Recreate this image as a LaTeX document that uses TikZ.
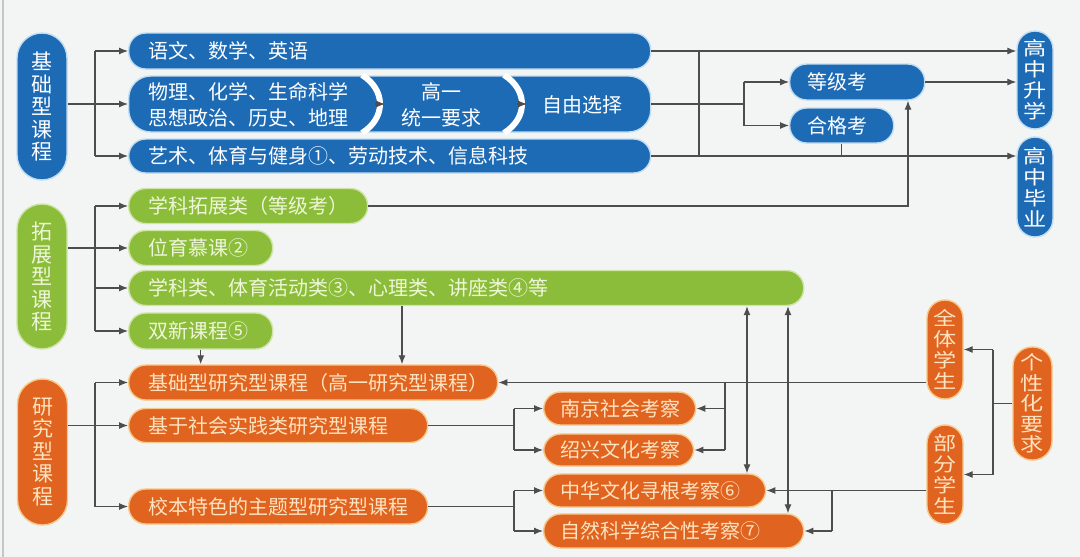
\documentclass[tikz,border=0pt]{standalone}
\usepackage{fontspec}
\setmainfont{Noto Sans CJK SC}
\newfontfamily\widecjk[FakeStretch=1.22]{Noto Sans CJK SC}
\usetikzlibrary{arrows.meta,calc}
\definecolor{cbg}{HTML}{F3F4F4}
\definecolor{cblue}{HTML}{1D6AB5}
\definecolor{cblueg}{HTML}{BFDDF3}
\definecolor{cgreen}{HTML}{8CBD3A}
\definecolor{cgreeng}{HTML}{CFE5A8}
\definecolor{corange}{HTML}{E0631F}
\definecolor{corangeg}{HTML}{F6C889}
\definecolor{cgtext}{HTML}{EEF6D8}
\definecolor{cotext}{HTML}{FDE3C0}
\definecolor{cline}{HTML}{4D4D4D}
\newcommand\tbx[2]{\makebox[#1pt][l]{#2}}
\begin{document}
\begin{tikzpicture}[x=1pt,y=-1pt,
  pill/.style={rectangle, rounded corners=17pt, inner xsep=20pt, inner ysep=0pt, line width=1.4pt, font=\fontsize{20}{24}\selectfont, anchor=west},
  bbar/.style={pill, fill=cblue, draw=cblueg, text=white},
  gbar/.style={pill, fill=cgreen, draw=cgreeng, text=cgtext},
  obar/.style={pill, fill=corange, draw=corangeg, text=cotext},
  vpill/.style={rectangle, inner sep=0pt, line width=1.4pt, align=center},
  vbig/.style={vpill, rounded corners=25pt, minimum width=50pt, font=\fontsize{21}{22.5}\selectfont},
  vsmall/.style={vpill, rounded corners=18pt, minimum width=36pt, font=\widecjk\fontsize{19}{21}\selectfont},
  vb/.style={fill=cblue, draw=cblueg, text=white},
  vg/.style={fill=cgreen, draw=cgreeng, text=cgtext},
  vo/.style={fill=corange, draw=corangeg, text=cotext},
  ln/.style={draw=cline, line width=1.1pt},
  arr/.style={ln, -{Latex[length=9pt,width=7pt]}},
  arrtwo/.style={ln, {Latex[length=9pt,width=7pt]}-{Latex[length=9pt,width=7pt]}}
]
\useasboundingbox (0,0) rectangle (1080,557);
\fill[cbg] (0,0) rectangle (1080,557);
\fill[gray!45] (1.5,0) rectangle (4,557);

% helper x positions
\coordinate (lb) at (95,0);
\coordinate (rv) at (699,0);
\coordinate (rvb) at (744,0);
\coordinate (ux) at (908,0);
\coordinate (dx) at (402,0);
\coordinate (va) at (747,0);
\coordinate (vc) at (788,0);
\coordinate (ob) at (514,0);
\coordinate (qb) at (725,0);
\coordinate (bb) at (832,0);
\coordinate (gb) at (993,0);

% ---------- blue ----------
\node[vbig, vb, minimum height=147pt] (jc) at (42,106.5) {基\\础\\型\\课\\程};
\node[bbar, minimum width=522pt, minimum height=36pt] (b1) at (128,51) {\tbx{482}{语文、数学、英语}};
\node[bbar, rounded corners=22pt, minimum width=522pt, minimum height=56pt] (b2) at (128,104) {};
\node[bbar, minimum width=522pt, minimum height=34pt] (b3) at (128,156) {\tbx{482}{艺术、体育与健身①、劳动技术、信息科技}};
\draw[white, line width=6pt] (362,75) .. controls (386,90) and (386,118) .. (362,133);
\draw[white, line width=6pt] (504,75) .. controls (528,90) and (528,118) .. (504,133);
\node[anchor=west, inner sep=0pt, text=white, align=left, font=\fontsize{20}{26}\selectfont] (b2a) at (148,105) {物理、化学、生命科学\\思想政治、历史、地理};
\node[inner sep=0pt, text=white, align=center, font=\fontsize{20}{26}\selectfont] (b2b) at (441,105) {高一\\统一要求};
\node[inner sep=0pt, text=white, font=\fontsize{20}{24}\selectfont] (b2c) at (582,105) {自由选择};
\coordinate (ta) at (385,104);
\coordinate (tb) at (527,104);
\draw[arr] ($(ta)+(-10,0)$) -- (ta);
\draw[arr] ($(tb)+(-10,0)$) -- (tb);

\node[bbar, inner xsep=18pt, minimum width=135pt, minimum height=36pt] (dj) at (789,82) {\tbx{99}{等级考}};
\node[bbar, inner xsep=18pt, minimum width=104pt, minimum height=35pt] (hg) at (789,125.5) {\tbx{68}{合格考}};
\node[vsmall, vb, minimum height=98pt] (sx) at (1035,80) {高\\中\\升\\学};
\node[vsmall, vb, minimum height=100pt] (by) at (1035,187) {高\\中\\毕\\业};

% ---------- green ----------
\node[vbig, vg, minimum height=145pt] (tz) at (42,276.5) {拓\\展\\型\\课\\程};
\node[gbar, minimum width=239pt, minimum height=35pt] (g1) at (128,206) {\tbx{199}{学科拓展类（等级考）}};
\node[gbar, minimum width=144pt, minimum height=35pt] (g2) at (128,248) {\tbx{104}{位育慕课②}};
\node[gbar, minimum width=675pt, minimum height=35pt] (g3) at (128,288) {\tbx{635}{学科类、体育活动类③、心理类、讲座类④等}};
\node[gbar, minimum width=144pt, minimum height=36pt] (g4) at (128,331) {\tbx{104}{双新课程⑤}};

% ---------- orange ----------
\node[vbig, vo, minimum height=146pt] (yj) at (42.5,452) {研\\究\\型\\课\\程};
\node[obar, minimum width=369pt, minimum height=35pt] (o1) at (128,382.5) {\tbx{329}{基础型研究型课程（高一研究型课程）}};
\node[obar, minimum width=299pt, minimum height=34pt] (o2) at (128,425.5) {\tbx{259}{基于社会实践类研究型课程}};
\node[obar, minimum width=299pt, minimum height=35pt] (o3) at (128,506.5) {\tbx{259}{校本特色的主题型研究型课程}};
\node[obar, inner xsep=17pt, minimum width=152pt, minimum height=33pt] (n1) at (543,408.5) {\tbx{118}{南京社会考察}};
\node[obar, inner xsep=17pt, minimum width=150pt, minimum height=32pt] (n2) at (543,450) {\tbx{116}{绍兴文化考察}};
\node[obar, inner xsep=17pt, minimum width=222pt, minimum height=33pt] (n3) at (543,490.5) {\tbx{188}{中华文化寻根考察⑥}};
\node[obar, inner xsep=17pt, minimum width=260pt, minimum height=34pt] (n4) at (543,531) {\tbx{226}{自然科学综合性考察⑦}};
\node[vsmall, vo, minimum height=99pt] (qt) at (945,349.5) {全\\体\\学\\生};
\node[vsmall, vo, minimum height=99pt] (bf) at (945,474.5) {部\\分\\学\\生};
\node[vsmall, vo, rounded corners=19pt, minimum width=39pt, minimum height=113pt, font=\widecjk\fontsize{19}{20.5}\selectfont] (gx) at (1032.5,403.5) {个\\性\\化\\要\\求};

% ---------- connectors: blue ----------
\draw[arr] (jc.east |- b2.west) -- (b2.west);
\draw[ln] (lb |- b1.west) -- (lb |- b3.west);
\draw[arr] (lb |- b1.west) -- (b1.west);
\draw[arr] (lb |- b3.west) -- (b3.west);
\draw[arr] (b1.east) -- (b1.east -| sx.west);
\draw[ln] (rv |- b1.east) -- (rv |- b3.east);
\draw[ln] (b2.east) -- (rvb |- b2.east);
\draw[ln] (rvb |- dj.west) -- (rvb |- hg.west);
\draw[arr] (rvb |- dj.west) -- (dj.west);
\draw[arr] (rvb |- hg.west) -- (hg.west);
\draw[arr] (b3.east) -- (b3.east -| by.west);
\draw[ln] (hg.south) -- (hg.south |- b3.east);
\draw[arr] (dj.east) -- (dj.east -| sx.west);
\draw[arr] (g1.east) -- (ux |- g1.east) -- (ux |- dj.south);

% ---------- connectors: green ----------
\draw[arr] (tz.east |- g2.west) -- (g2.west);
\draw[ln] (lb |- g1.west) -- (lb |- g4.west);
\draw[arr] (lb |- g1.west) -- (g1.west);
\draw[arr] (lb |- g3.west) -- (g3.west);
\draw[arr] (lb |- g4.west) -- (g4.west);
\draw[arr] (g4.south) -- (g4.south |- o1.north);
\draw[arr] (dx |- g3.south) -- (dx |- o1.north);
\draw[arrtwo] (va |- g3.south) -- (va |- n3.north);
\draw[arrtwo] (vc |- g3.south) -- (vc |- n4.north);

% ---------- connectors: orange ----------
\draw[arr] (yj.east |- o2.west) -- (o2.west);
\draw[ln] (lb |- o1.west) -- (lb |- o3.west);
\draw[arr] (lb |- o1.west) -- (o1.west);
\draw[arr] (lb |- o3.west) -- (o3.west);
\draw[ln] (o2.east) -- (ob |- o2.east);
\draw[ln] (ob |- n1.west) -- (ob |- n2.west);
\draw[arr] (ob |- n1.west) -- (n1.west);
\draw[arr] (ob |- n2.west) -- (n2.west);
\draw[ln] (o3.east) -- (ob |- o3.east);
\draw[ln] (ob |- n3.west) -- (ob |- n4.west);
\draw[arr] (ob |- n3.west) -- (n3.west);
\draw[arr] (ob |- n4.west) -- (n4.west);
\draw[arr] (qt.west |- o1.east) -- (o1.east);
\draw[ln] (qb |- o1.east) -- (qb |- n2.east);
\draw[arr] (qb |- n1.east) -- (n1.east);
\draw[arr] (qb |- n2.east) -- (n2.east);
\draw[arr] (bf.west |- n3.east) -- (n3.east);
\draw[ln] (bb |- n3.east) -- (bb |- n4.east);
\draw[arr] (bb |- n4.east) -- (n4.east);
\draw[ln] (gx.west) -- (gb |- gx.west);
\draw[ln] (gb |- qt.east) -- (gb |- bf.east);
\draw[arr] (gb |- qt.east) -- (qt.east);
\draw[arr] (gb |- bf.east) -- (bf.east);
\end{tikzpicture}
\end{document}
